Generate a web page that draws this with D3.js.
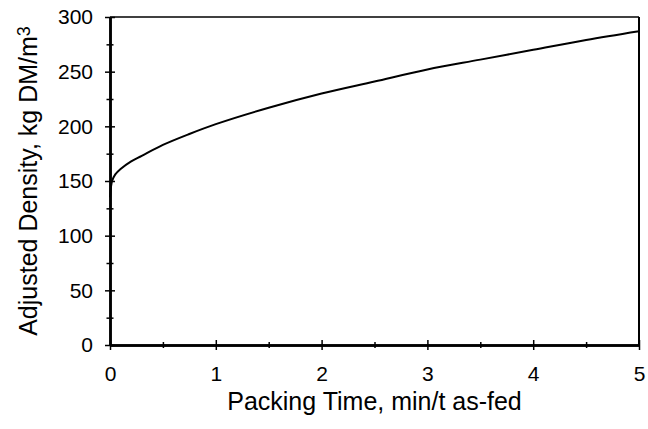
<!DOCTYPE html>
<html>
<head>
<meta charset="utf-8">
<script src="https://cdn.jsdelivr.net/npm/d3@7"></script>
<style>
  body { margin: 0; background: #fff; }
  text { font-family: "Liberation Sans", Arial, sans-serif; fill: #000; }
</style>
</head>
<body>
<div id="chart"></div>
<script>
// Values (packing time vs adjusted density)
var packTime = [0, 0.01, 0.02, 0.05, 0.1, 0.2, 0.3, 0.5, 0.75, 1, 1.5, 2, 2.5, 3, 3.5, 4, 4.5, 5];
var density = [135, 145, 150, 156, 161, 168, 173, 183, 193, 202, 217, 230, 241, 252, 261, 270, 279, 287];

var xTicks = [0, 1, 2, 3, 4, 5];
var xMinor = [0.5, 1.5, 2.5, 3.5, 4.5];
var yTicks = [0, 50, 100, 150, 200, 250, 300];
var yMinor = [25, 75, 125, 175, 225, 275];

// Set the parameters of the SVG and chart area
var svgWidth = 648;
var svgHeight = 429;
var margin = {top: 17, right: 9, bottom: 84, left: 110};
var width = svgWidth - margin.left - margin.right;
var height = svgHeight - margin.top - margin.bottom;

var svg = d3.select("#chart").append("svg")
  .attr("width", svgWidth).attr("height", svgHeight);

var chartGroup = svg.append("g")
  .attr("transform", `translate(${margin.left}, ${margin.top})`);

var xScale = d3.scaleLinear().domain([0, 5]).range([0, width]);
var yScale = d3.scaleLinear().domain([0, 300]).range([height, 0]);

// top and right frame lines
chartGroup.append("line")
  .attr("x1", 0).attr("x2", width).attr("y1", 0).attr("y2", 0)
  .attr("stroke", "#000").attr("stroke-width", 1.3);
chartGroup.append("line")
  .attr("x1", width).attr("x2", width).attr("y1", 0).attr("y2", height)
  .attr("stroke", "#000").attr("stroke-width", 2);

// ticks cross the axis line, so draw an outer and an inner axis at each spot
function styleAxis(g) {
  g.select(".domain").attr("stroke", "#000").attr("stroke-width", 2);
  g.selectAll(".tick line").attr("stroke", "#000").attr("stroke-width", 1.5);
  g.selectAll(".tick text").style("font-size", "21px")
    .style("font-family", "'Liberation Sans', Arial, sans-serif");
}

var fmt = d3.format("d");

var yAxisOut = chartGroup.append("g")
  .call(d3.axisLeft(yScale).tickValues(yTicks).tickFormat(fmt).tickSize(5).tickSizeOuter(0).tickPadding(12))
  .call(styleAxis);
chartGroup.append("g")
  .call(d3.axisRight(yScale).tickValues(yTicks).tickSize(5).tickSizeOuter(0).tickFormat(""))
  .call(styleAxis);
chartGroup.append("g")
  .call(d3.axisLeft(yScale).tickValues(yMinor).tickSize(3.5).tickSizeOuter(0).tickFormat(""))
  .call(styleAxis);
chartGroup.append("g")
  .call(d3.axisRight(yScale).tickValues(yMinor).tickSize(3.5).tickSizeOuter(0).tickFormat(""))
  .call(styleAxis);

var xAxisOut = chartGroup.append("g")
  .attr("transform", `translate(0, ${height})`)
  .call(d3.axisBottom(xScale).tickValues(xTicks).tickFormat(fmt).tickSize(5).tickSizeOuter(0).tickPadding(16))
  .call(styleAxis);
chartGroup.append("g")
  .attr("transform", `translate(0, ${height})`)
  .call(d3.axisTop(xScale).tickValues(xTicks).tickSize(5).tickSizeOuter(0).tickFormat(""))
  .call(styleAxis);
chartGroup.append("g")
  .attr("transform", `translate(0, ${height})`)
  .call(d3.axisBottom(xScale).tickValues(xMinor).tickSize(3).tickSizeOuter(0).tickFormat(""))
  .call(styleAxis);
chartGroup.append("g")
  .attr("transform", `translate(0, ${height})`)
  .call(d3.axisTop(xScale).tickValues(xMinor).tickSize(3).tickSizeOuter(0).tickFormat(""))
  .call(styleAxis);

// the curve
var line = d3.line()
  .x(d => xScale(d[0]))
  .y(d => yScale(d[1]))
  .curve(d3.curveCatmullRom.alpha(0.5));

chartGroup.append("path")
  .datum(d3.zip(packTime, density))
  .attr("d", line)
  .attr("fill", "none")
  .attr("stroke", "#000")
  .attr("stroke-width", 2);

// axis titles
chartGroup.append("text")
  .attr("x", width / 2)
  .attr("y", height + 65)
  .attr("text-anchor", "middle")
  .style("font-size", "25px")
  .text("Packing Time, min/t as-fed");

var yLabel = chartGroup.append("text")
  .attr("transform", "rotate(-90)")
  .attr("x", -height / 2)
  .attr("y", -margin.left + 37)
  .attr("text-anchor", "middle")
  .style("font-size", "25px");
yLabel.append("tspan").text("Adjusted Density, kg DM/m");
yLabel.append("tspan").attr("dy", "-0.4em").style("font-size", "18px").text("3");
</script>
</body>
</html>
